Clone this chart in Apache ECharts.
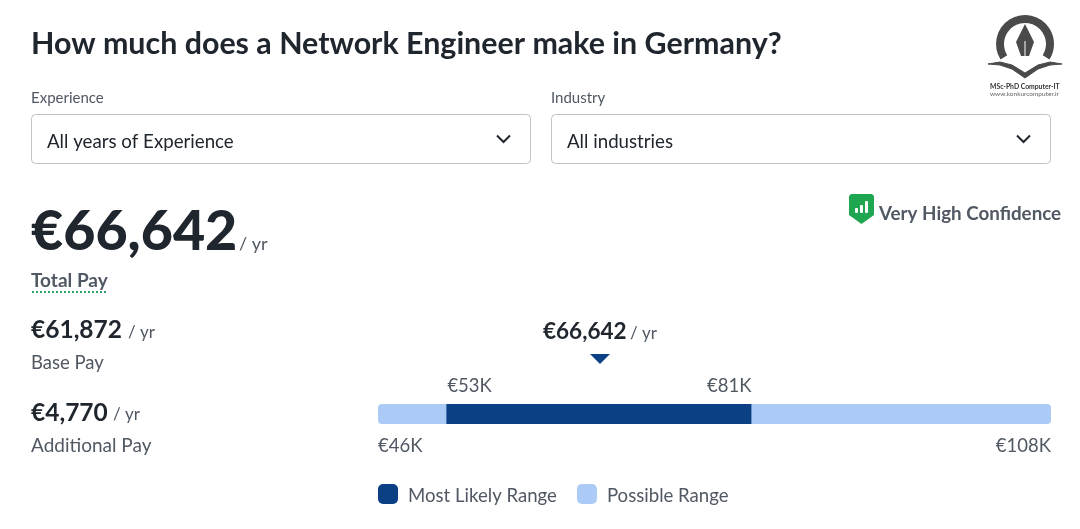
<!DOCTYPE html>
<html>
<head>
<meta charset="utf-8">
<style>html,body{margin:0;padding:0;background:#fff}#main{width:1080px;height:529px}</style>
<script src="https://cdn.jsdelivr.net/npm/echarts@6/dist/echarts.min.js"></script>
</head>
<body>
<div id="main"></div>
<script>
// values in thousand euro, edges
var possibleRange = [46, 108];
var likelyRange = [52.3, 80.4];
var markerValue = [66.45];
var possibleLabels = ['€46K', '€108K'];
var likelyLabels = ['€53K', '€81K'];
var legendNames = ['Most Likely Range', 'Possible Range'];
var totalPay = '€66,642';
var basePay = '€61,872';
var additionalPay = '€4,770';

var DARK = '#20262e', GREY = '#505863', NAVY = '#0c4085', LIGHT = '#abcaf5', GREEN = '#1fa650', LOGO = '#4a4a4a';
var FONT = 'Lato';

function txt(x, y, text, size, color, weight) {
    return {
        type: 'text', x: x, y: y, silent: true,
        style: { text: text, fontFamily: FONT, fontSize: size, fontWeight: weight || 'normal', fill: color || GREY, verticalAlign: 'middle', align: 'left' }
    };
}
function select(x, label, value) {
    return [
        txt(x, 98, label, 15),
        { type: 'rect', shape: { x: x + 0.5, y: 114.5, width: 499, height: 49, r: 4 }, style: { fill: '#fff', stroke: '#c0c2c5', lineWidth: 1 } },
        txt(x + 16, 142, value, 18.7, DARK),
        { type: 'polyline', shape: { points: [[x + 466, 135.5], [x + 472.5, 142], [x + 479, 135.5]] }, style: { fill: null, stroke: DARK, lineWidth: 2 } }
    ];
}

var graphics = [].concat(
    select(31, 'Experience', 'All years of Experience'),
    select(551, 'Industry', 'All industries'),
    [
        txt(31, 232, totalPay, 55.5, DARK, 900),
        txt(239, 244, '/ yr', 18),
        txt(31, 281, 'Total Pay', 19, GREY, 'bold'),
        { type: 'line', shape: { x1: 32, y1: 292, x2: 107, y2: 292 }, style: { stroke: '#2ea36b', lineWidth: 2, lineDash: [2, 2] } },
        txt(31, 330, basePay, 24.5, DARK, 'bold'),
        txt(128, 333, '/ yr', 17),
        txt(31, 363, 'Base Pay', 18.5),
        txt(31, 413, additionalPay, 24.5, DARK, 'bold'),
        txt(113, 415, '/ yr', 17),
        txt(31, 446, 'Additional Pay', 19),
        txt(543, 332, totalPay, 22.5, DARK, 'bold'),
        txt(630, 334, '/ yr', 17),
        // confidence badge
        { type: 'polygon', shape: { points: [[851, 194], [872, 194], [874, 196], [874, 215], [861.5, 224], [849, 215], [849, 196]] }, style: { fill: GREEN } },
        { type: 'rect', shape: { x: 855, y: 208, width: 3, height: 5, r: 1 }, style: { fill: '#fff' } },
        { type: 'rect', shape: { x: 860, y: 205, width: 3, height: 8, r: 1 }, style: { fill: '#fff' } },
        { type: 'rect', shape: { x: 865, y: 201, width: 3, height: 12, r: 1 }, style: { fill: '#fff' } },
        txt(879, 214, 'Very High Confidence', 18.8, GREY, 'bold'),
        // logo top right
        { type: 'sector', shape: { cx: 1025, cy: 44, r: 29, r0: 21, startAngle: Math.PI * 0.82, endAngle: Math.PI * 2.18, clockwise: true }, style: { fill: LOGO } },
        { type: 'polygon', shape: { points: [[1025, 24], [1034, 42], [1029, 56], [1021, 56], [1016, 42]] }, style: { fill: LOGO } },
        { type: 'line', shape: { x1: 1025, y1: 41, x2: 1025, y2: 56 }, style: { stroke: '#fff', lineWidth: 1 } },
        { type: 'polygon', shape: { points: [[988, 64], [1000, 62], [1012, 65], [1025, 73], [1038, 65], [1050, 62], [1062, 64], [1050, 65], [1038, 69], [1025, 78], [1012, 69], [1000, 65]] }, style: { fill: LOGO, stroke: LOGO, lineWidth: 1 } },
        txt(990, 87, 'MSc-PhD Computer-IT', 6.8, '#333', 'bold'),
        txt(990, 94, 'www.konkurcomputer.ir', 6.5, '#666')
    ]
);

function renderRange(params, api) {
    var start = api.coord([api.value(0), 0.5]);
    var end = api.coord([api.value(1), 0.5]);
    var size = api.size([0, 1])[1];
    var isLikely = params.seriesIndex === 0;
    var labels = isLikely ? likelyLabels : possibleLabels;
    var labelY = isLikely ? start[1] - 28 : start[1] + 32;
    function label(x, text, align) {
        return {
            type: 'text', x: x, y: labelY,
            style: { text: text, fontFamily: FONT, fontSize: 18.5, fill: GREY, align: align, verticalAlign: 'middle' }
        };
    }
    return {
        type: 'group',
        children: [
            {
                type: 'rect',
                shape: { x: start[0], y: start[1] - size / 2, width: end[0] - start[0], height: size, r: isLikely ? 0 : 4 },
                style: { fill: isLikely ? NAVY : LIGHT }
            },
            label(start[0] + (isLikely ? 1 : 0), labels[0], 'left'),
            label(end[0], labels[1], 'right')
        ]
    };
}

var myChart = echarts.init(document.getElementById('main'));
var option = {
    animation: false,
    backgroundColor: '#fff',
    title: {
        text: 'How much does a Network Engineer make in Germany?',
        left: 31, top: 29, padding: 0,
        textStyle: { fontFamily: FONT, fontSize: 30.4, fontWeight: 'bold', color: DARK }
    },
    legend: {
        left: 378, top: 484, padding: 0,
        itemWidth: 20, itemHeight: 20, itemGap: 20,
        icon: 'roundRect',
        selectedMode: false,
        formatter: '{a|{name}}',
        textStyle: {
            rich: { a: { fontFamily: FONT, fontSize: 18.6, color: GREY, padding: [4, 0, 0, 5] } }
        },
        data: legendNames
    },
    grid: { left: 378, right: 29, top: 404, height: 20 },
    xAxis: { type: 'value', min: possibleRange[0], max: possibleRange[1], show: false },
    yAxis: { type: 'value', min: 0, max: 1, show: false },
    graphic: graphics,
    series: [
        {
            name: legendNames[0], type: 'custom', z: 3, clip: false,
            itemStyle: { color: NAVY },
            renderItem: renderRange,
            encode: { x: [0, 1] },
            data: [likelyRange]
        },
        {
            name: legendNames[1], type: 'custom', z: 2, clip: false,
            itemStyle: { color: LIGHT },
            renderItem: renderRange,
            encode: { x: [0, 1] },
            data: [possibleRange]
        },
        {
            type: 'scatter', z: 4, clip: false, silent: true,
            symbol: 'triangle', symbolRotate: 180, symbolSize: [20, 10],
            symbolOffset: [0, -55],
            itemStyle: { color: NAVY, opacity: 1 },
            data: markerValue.map(function (v) { return [v, 0.5]; })
        }
    ]
};
myChart.setOption(option);
</script>
</body>
</html>
